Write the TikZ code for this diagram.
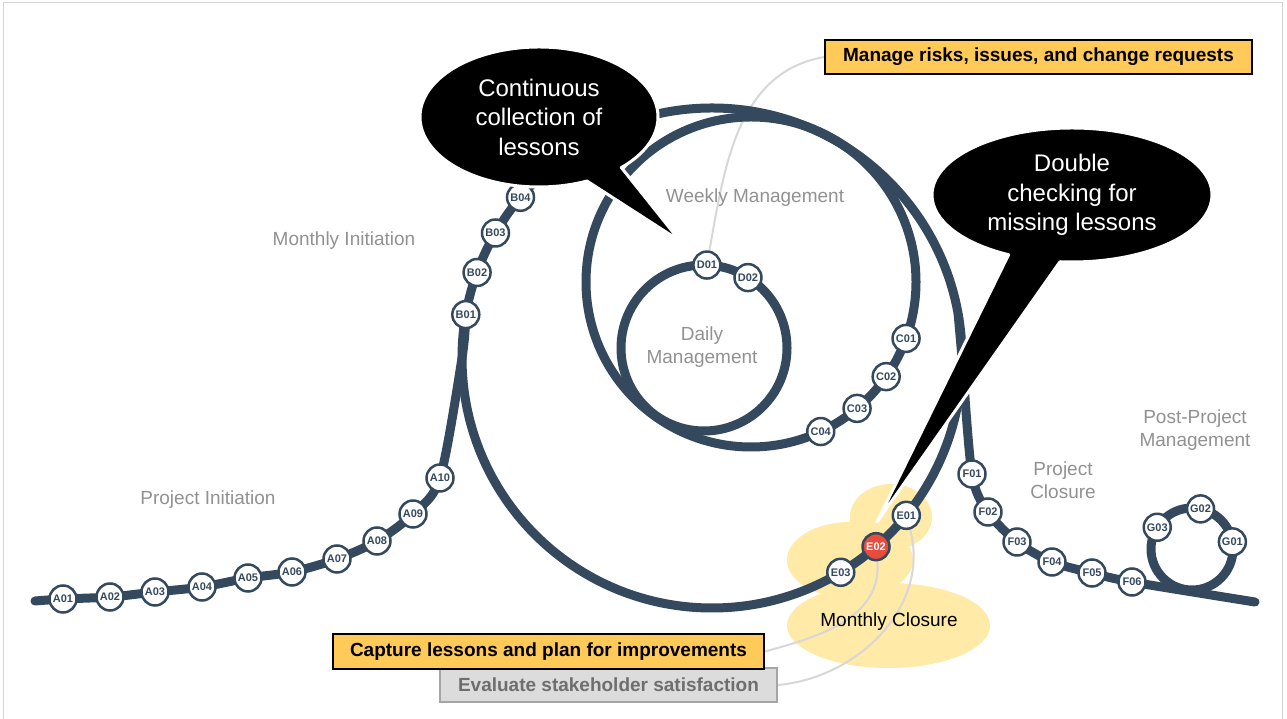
\documentclass[tikz,border=0pt]{standalone}
\usepackage{fontspec}
\setmainfont{Liberation Sans}
\usetikzlibrary{shapes.callouts, math}
\definecolor{rtrack}{RGB}{52,73,94}
\definecolor{rgold}{RGB}{255,202,88}
\definecolor{rcream}{RGB}{255,234,167}
\definecolor{rred}{RGB}{231,76,60}
\definecolor{rgrey}{RGB}{145,145,145}
\definecolor{rlink}{RGB}{215,215,215}
\definecolor{rlgrey}{RGB}{220,220,220}
\definecolor{rmgrey}{RGB}{165,165,165}
\definecolor{rdgrey}{RGB}{110,110,110}
\definecolor{rframe}{RGB}{212,212,212}
\pgfdeclarelayer{back}
\pgfsetlayers{back,main}

\begin{document}
\begin{tikzpicture}[x=1pt, y=1pt,
  track/.style={draw=rtrack, line width=9pt, line cap=round},
  stn/.style={circle, draw=rtrack, line width=2.5pt, fill=white, minimum size=27pt, inner sep=0pt, text=rtrack, font=\fontsize{11}{13}\selectfont\bfseries},
  phase/.style={text=rgrey, align=center, font=\fontsize{19}{23}\selectfont},
  task/.style={draw=black, line width=1.5pt, fill=rgold, inner sep=0pt, font=\fontsize{19}{23}\selectfont\bfseries},
  bubble/.style={ellipse callout, fill=black, draw=white, line width=3pt, line join=round, text=white, align=center, inner sep=0pt, font=\fontsize{24}{29.5}\selectfont},
  link/.style={draw=rlink, line width=2pt}
]
\tikzmath{
\rM=250;
\rW=165;
\rD=83;
\rG=41;
}
\useasboundingbox (0,0) rectangle (1287,719);
\draw[rframe, line width=1.5pt] (3.5,716.5) rectangle (1282.5,-10);

%loop centres:
\coordinate (mc) at (712,361);
\coordinate (wc) at (751,437);
\coordinate (dc) at (704,371);
\coordinate (gc) at (1192,170);

%stops on the open track
\foreach \nm/\x/\y in {A01/63/120, A02/110/122, A03/155/127, A04/202/132, A05/248/141,
  A06/292/147, A07/337/160, A08/377/178, A09/413/205, A10/440/241,
  F01/972/245, F02/988/207, F03/1017/177, F04/1052/157, F05/1092/146, F06/1132/137}
  \coordinate (p\nm) at (\x,\y);

%track in and out
\draw[track] plot[smooth] coordinates {(35,118) (pA01) (pA02) (pA03) (pA04) (pA05) (pA06) (pA07) (pA08) (pA09) (pA10) (462,361) (465.8,404.4)};
\draw[track] plot[smooth] coordinates {(958.2,404.4) (962,361) (pF01) (pF02) (pF03) (pF04) (pF05) (pF06) (1255,117)};
%the loops
\draw[track] (mc) circle (\rM pt);
\draw[track] (wc) circle (\rW pt);
\draw[track] (dc) circle (\rD pt);
\draw[track] (gc) circle (\rG pt);

%stations
\foreach \nm in {A01,A02,A03,A04,A05,A06,A07,A08,A09,A10,F01,F02,F03,F04,F05,F06}
  \node[stn] (\nm) at (p\nm) {\nm};
\foreach \nm/\ang in {B01/170, B02/160, B03/150, B04/140, E01/-39, E03/-59}
  \node[stn] (\nm) at ([shift={(\ang:\rM)}]mc) {\nm};
\node[stn, fill=rred, text=white] (E02) at ([shift={(-49:\rM)}]mc) {E02};
\foreach \nm/\ang in {C01/-20, C02/-35, C03/-50, C04/-65}
  \node[stn] (\nm) at ([shift={(\ang:\rW)}]wc) {\nm};
\foreach \nm/\ang in {D01/88, D02/58}
  \node[stn] (\nm) at ([shift={(\ang:\rD)}]dc) {\nm};
\foreach \nm/\ang in {G01/10, G02/78, G03/148}
  \node[stn] (\nm) at ([shift={(\ang:\rG)}]gc) {\nm};

%phase names
\node[phase] (pinit) at (208,219) {Project Initiation};
\node[phase] (minit) at (344,478) {Monthly Initiation};
\node[phase] (wman) at (755,521) {Weekly Management};
\node[phase] (dman) at (702,372) {Daily\\Management};
\node[phase] (pclose) at (1063,239) {Project\\Closure};
\node[phase] (ppman) at (1195,289) {Post-Project\\Management};
\node[phase, text=black] (mclose) at (889,97) {Monthly Closure};

%tasks
\node[task, minimum width=427pt, minimum height=34pt] (risks) at (1038.5,662) {Manage risks, issues, and change requests};
\node[task, minimum width=337pt, minimum height=34pt, fill=rlgrey, draw=rmgrey, text=rdgrey] (survey) at (608.5,34) {Evaluate stakeholder satisfaction};
\node[task, minimum width=431pt, minimum height=35pt] (lessons) at (548.5,67.5) {Capture lessons and plan for improvements};

%callouts
\node[bubble, minimum width=238pt, minimum height=140pt, callout pointer arc=20, callout absolute pointer={(680,478)}] (collect) at (539,602) {Continuous\\collection of\\lessons};
\node[bubble, minimum width=280pt, minimum height=134pt, callout pointer arc=22, callout absolute pointer={(877,197)}] (check) at (1072,524) {Double\\checking for\\missing lessons};

\begin{pgfonlayer}{back}
 %monthly closure area
 \fill[rcream] (888.5,93.5) ellipse (101.5pt and 42.5pt);
 \fill[rcream] (850,159) ellipse (63pt and 38pt);
 \fill[rcream] (891,202) ellipse (41pt and 33pt);
 %links to tasks
 \draw[link] (D01) to[out=80, in=190] (risks.west);
 \draw[link] (E02) to[out=-85, in=15] (lessons.east);
 \draw[link] (E01) to[out=-75, in=5] (survey.east);
\end{pgfonlayer}
\end{tikzpicture}
\end{document}
